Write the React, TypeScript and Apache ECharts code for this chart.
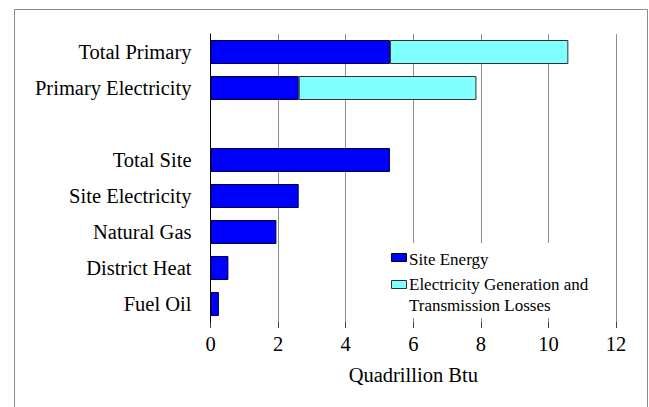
import React, { useEffect, useRef } from "react";
import * as echarts from "echarts";

const categories = [
  "Total Primary",
  "Primary Electricity",
  "",
  "Total Site",
  "Site Electricity",
  "Natural Gas",
  "District Heat",
  "Fuel Oil",
];
const siteEnergy: (number | null)[] = [5.31, 2.61, null, 5.31, 2.61, 1.95, 0.53, 0.25];
const genLosses: (number | null)[] = [5.28, 5.26, null, null, null, null, null, null];
const seriesNames = ["Site Energy", "Electricity Generation and Transmission Losses"];
const legendLines = ["Site Energy", "Electricity Generation and", "Transmission Losses"];
const xTicks = { min: 0, max: 12, interval: 2 };
const xAxisTitle = "Quadrillion Btu";

const FONT = "Liberation Serif";
const BLUE = "#0000FF";
const CYAN = "#80FFFF";

export default function App() {
  const ref = useRef<HTMLDivElement>(null);
  useEffect(() => {
    if (!ref.current) return;
    const chart = echarts.init(ref.current, null, { renderer: "svg" });
    chart.setOption({
      animation: false,
      backgroundColor: "#ffffff",
      textStyle: { fontFamily: FONT },
      grid: { left: 210.5, right: 33, top: 34, height: 288, containLabel: false },
      xAxis: {
        type: "value",
        min: xTicks.min,
        max: xTicks.max,
        interval: xTicks.interval,
        axisLine: { show: false },
        axisTick: { show: true, length: 6, lineStyle: { color: "#404040", width: 1 } },
        splitLine: { show: true, lineStyle: { color: "#8c8c8c", width: 1 } },
        axisLabel: { color: "#000", fontFamily: FONT, fontSize: 20.5, margin: 11 },
        name: xAxisTitle,
        nameLocation: "middle",
        nameGap: 42,
        nameTextStyle: { color: "#000", fontFamily: FONT, fontSize: 20.5 },
      },
      yAxis: {
        type: "category",
        inverse: true,
        data: categories,
        axisLine: { show: true, lineStyle: { color: "#000", width: 1 } },
        axisTick: { show: false },
        axisLabel: { color: "#000", fontFamily: FONT, fontSize: 20.5, margin: 19 },
        splitLine: { show: false },
      },
      series: [
        {
          name: seriesNames[0],
          type: "bar",
          stack: "total",
          barWidth: 24,
          data: siteEnergy,
          itemStyle: { color: BLUE, borderColor: "#000040", borderWidth: 1 },
        },
        {
          name: seriesNames[1],
          type: "bar",
          stack: "total",
          barWidth: 24,
          data: genLosses,
          itemStyle: { color: CYAN, borderColor: "#303030", borderWidth: 1 },
        },
      ],
      graphic: [
        {
          type: "rect",
          shape: { x: 14.5, y: 9.5, width: 633, height: 500 },
          style: { fill: "none", stroke: "#8c8c8c", lineWidth: 1 },
          silent: true,
        },
        {
          type: "rect",
          shape: { x: 385, y: 243, width: 215, height: 75 },
          style: { fill: "#ffffff", stroke: "none" },
          z: 10,
        },
        {
          type: "rect",
          shape: { x: 391.5, y: 253.5, width: 15, height: 8 },
          style: { fill: BLUE, stroke: "#000000", lineWidth: 1 },
          z: 11,
        },
        {
          type: "rect",
          shape: { x: 391.5, y: 280.5, width: 15, height: 8 },
          style: { fill: CYAN, stroke: "#303030", lineWidth: 1 },
          z: 11,
        },
        {
          type: "text",
          x: 409,
          y: 259,
          style: { text: legendLines[0], fill: "#000", fontFamily: FONT, fontSize: 17, verticalAlign: "middle" },
          z: 11,
        },
        {
          type: "text",
          x: 409,
          y: 284,
          style: { text: legendLines[1], fill: "#000", fontFamily: FONT, fontSize: 17, verticalAlign: "middle" },
          z: 11,
        },
        {
          type: "text",
          x: 409,
          y: 305,
          style: { text: legendLines[2], fill: "#000", fontFamily: FONT, fontSize: 17, verticalAlign: "middle" },
          z: 11,
        },
      ],
    });
    return () => chart.dispose();
  }, []);
  return (
    <div
      ref={ref}
      style={{ position: "fixed", left: 0, top: 0, width: 649, height: 407, background: "#fff" }}
    />
  );
}
